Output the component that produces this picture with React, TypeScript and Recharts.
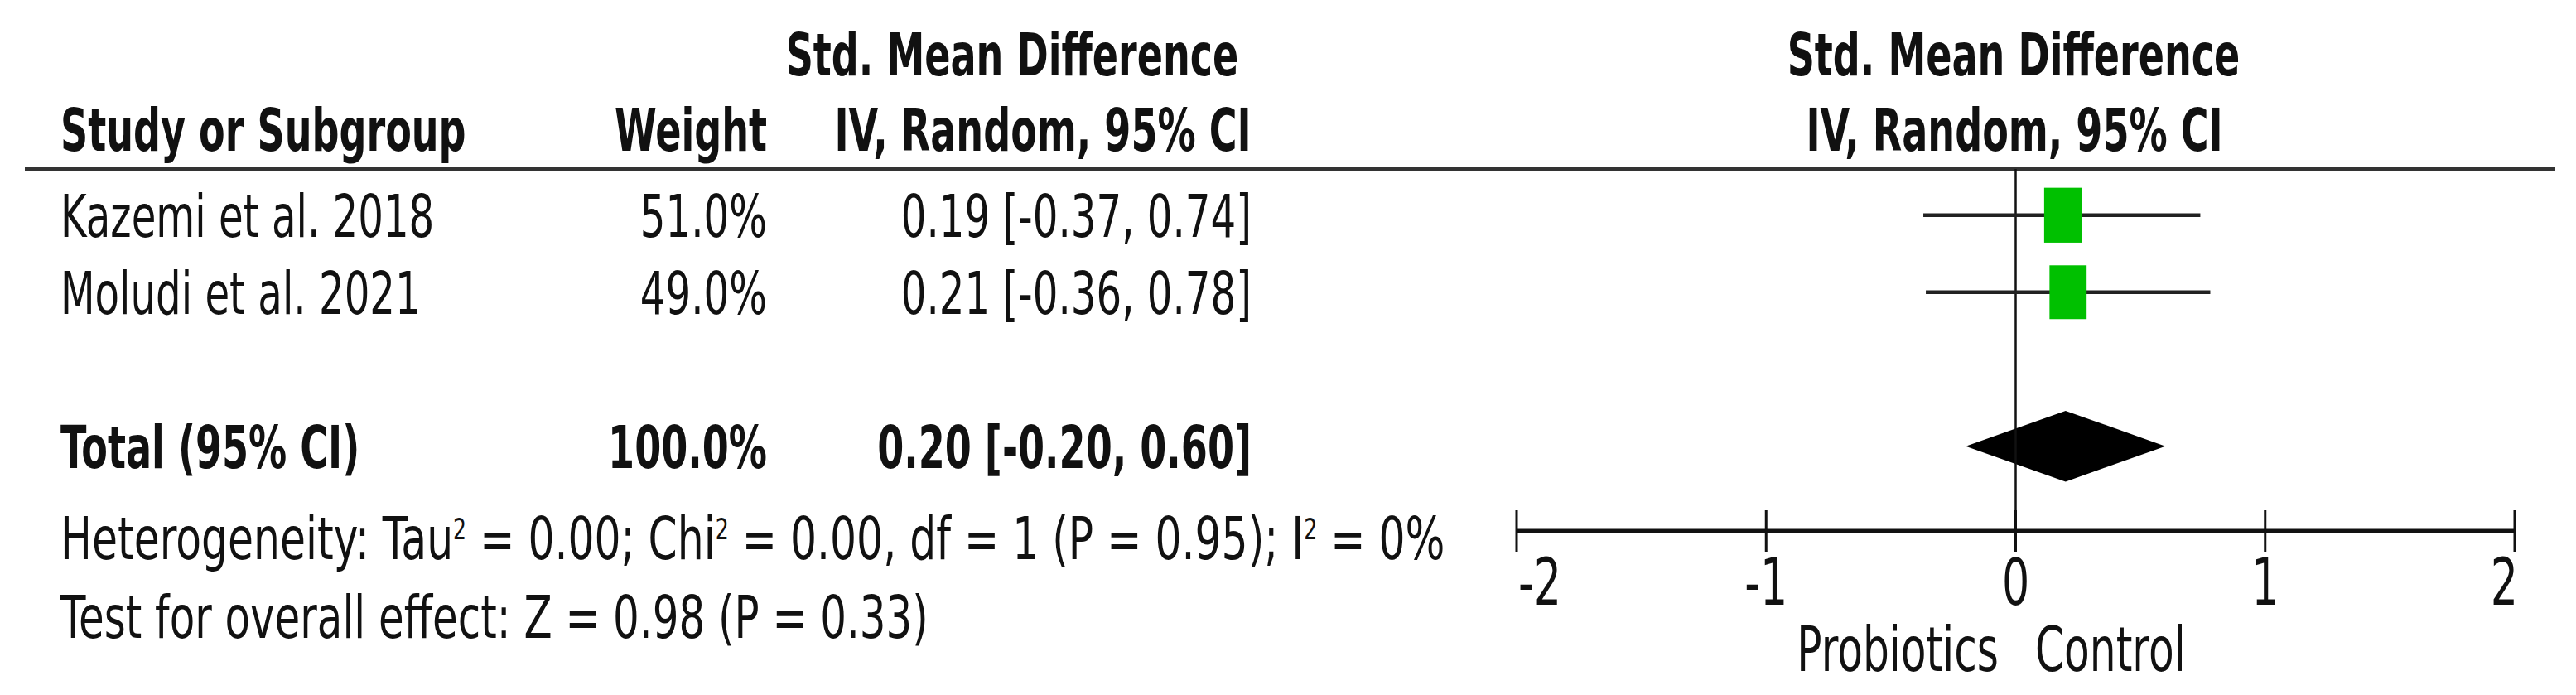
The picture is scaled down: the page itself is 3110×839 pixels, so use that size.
import { Area, ComposedChart, Customized, ReferenceLine, Scatter, XAxis, YAxis } from "recharts";

// study rows
const studies = ["Kazemi et al. 2018", "Moludi et al. 2021"];
const weights = [51.0, 49.0];
const smd = [0.19, 0.21];
const ciLow = [-0.37, -0.36];
const ciHigh = [0.74, 0.78];

// pooled estimate
const totalLabel = "Total (95% CI)";
const totalWeight = 100.0;
const totalSmd = 0.2;
const totalLow = -0.2;
const totalHigh = 0.6;

// heterogeneity / overall test
const tau2 = "0.00";
const chi2 = "0.00";
const df = 1;
const pHet = "0.95";
const i2 = "0%";
const zValue = "0.98";
const pOverall = "0.33";

const xTicks = [-2, -1, 0, 1, 2];
const favours = ["Probiotics", "Control"];

const FONT = "'DejaVu Sans', Verdana, sans-serif";
const SX = 0.67;
const SX_BOLD = 0.64;
const FS = 72;
const INK = "#111";

const TOTAL_ROW = studies.length + 1;

const squares = studies.map((_, i) => ({ x: smd[i], y: i, w: weights[i] }));
const diamond = [
  { x: totalLow, y: [TOTAL_ROW, TOTAL_ROW] },
  { x: totalSmd, y: [TOTAL_ROW - 0.46, TOTAL_ROW + 0.46] },
  { x: totalHigh, y: [TOTAL_ROW, TOTAL_ROW] },
];

const fmt = (v: number) => v.toFixed(2);

const Txt = ({ x, y, anchor = "start", bold = false, size = FS, sx, children }: any) => (
  <g transform={`translate(${x},${y}) scale(${sx ?? (bold ? SX_BOLD : SX)},1)`}>
    <text x={0} y={0} dy="0.36em" textAnchor={anchor} fontFamily={FONT} fontSize={size} fontWeight={bold ? 700 : 400} fill={INK}>
      {children}
    </text>
  </g>
);

const RowTick = (props: any) => {
  const { y, payload } = props;
  const v = payload.value;
  if (v === TOTAL_ROW) {
    return (
      <g>
        <Txt x={73} y={y} bold>{totalLabel}</Txt>
        <Txt x={926} y={y} anchor="end" bold>{`${totalWeight.toFixed(1)}%`}</Txt>
        <Txt x={1511} y={y} anchor="end" bold>{`${fmt(totalSmd)} [${fmt(totalLow)}, ${fmt(totalHigh)}]`}</Txt>
      </g>
    );
  }
  const i = v as number;
  return (
    <g>
      <Txt x={73} y={y}>{studies[i]}</Txt>
      <Txt x={926} y={y} anchor="end">{`${weights[i].toFixed(1)}%`}</Txt>
      <Txt x={1511} y={y} anchor="end">{`${fmt(smd[i])} [${fmt(ciLow[i])}, ${fmt(ciHigh[i])}]`}</Txt>
    </g>
  );
};

const AxisTick = (props: any) => {
  const { x, y, payload, index } = props;
  const anchor = index === 0 ? "start" : index === xTicks.length - 1 ? "end" : "middle";
  const dx = index === 0 ? 2 : index === xTicks.length - 1 ? 4 : 0;
  return (
    <g>
      <line x1={x} x2={x} y1={y - 25} y2={y + 25} stroke={INK} strokeWidth={3} />
      <Txt x={x + dx} y={y + 61} anchor={anchor} size={78}>{String(payload.value)}</Txt>
    </g>
  );
};

const Square = (props: any) => {
  const { cx, cy, payload } = props;
  const w = 6.4 * Math.sqrt(payload.w);
  const h = w * 1.45;
  return <rect x={cx - w / 2} y={cy - h / 2} width={w} height={h} fill="#00c000" />;
};

const SUP = 24;
const supSize = FS * 0.5;

const Overlay = () => (
  <g>
    <Txt x={1222} y={65} anchor="middle" bold>Std. Mean Difference</Txt>
    <Txt x={73} y={156} bold>Study or Subgroup</Txt>
    <Txt x={926} y={156} anchor="end" bold>Weight</Txt>
    <Txt x={1259} y={156} anchor="middle" bold>IV, Random, 95% CI</Txt>
    <Txt x={2431} y={65} anchor="middle" bold>Std. Mean Difference</Txt>
    <Txt x={2432} y={156} anchor="middle" bold>IV, Random, 95% CI</Txt>
    <line x1={30} x2={3085} y1={204} y2={204} stroke="#333" strokeWidth={6} />
    <Txt x={73} y={649} sx={0.7}>
      <tspan>Heterogeneity: Tau</tspan>
      <tspan dy={-SUP} fontSize={supSize}>2</tspan>
      <tspan dy={SUP}>{` = ${tau2}; Chi`}</tspan>
      <tspan dy={-SUP} fontSize={supSize}>2</tspan>
      <tspan dy={SUP}>{` = ${chi2}, df = ${df} (P = ${pHet}); I`}</tspan>
      <tspan dy={-SUP} fontSize={supSize}>2</tspan>
      <tspan dy={SUP}>{` = ${i2}`}</tspan>
    </Txt>
    <Txt x={73} y={744} sx={0.693}>{`Test for overall effect: Z = ${zValue} (P = ${pOverall})`}</Txt>
    <Txt x={2413} y={783} anchor="end" size={75}>{favours[0]}</Txt>
    <Txt x={2457} y={783} size={75}>{favours[1]}</Txt>
  </g>
);

export default function App() {
  return (
    <div style={{ position: "absolute", left: 0, top: 0, background: "#fff" }}>
      <ComposedChart width={3110} height={839} margin={{ top: 204, right: 74, bottom: 0, left: 0 }}>
        <XAxis
          type="number"
          dataKey="x"
          domain={[-2, 2]}
          ticks={xTicks}
          height={198}
          tickSize={0}
          tickMargin={0}
          tickLine={false}
          axisLine={{ stroke: INK, strokeWidth: 5 }}
          tick={<AxisTick />}
          allowDataOverflow
        />
        <YAxis
          type="number"
          dataKey="y"
          domain={[-0.6, 4.1]}
          reversed
          width={1831}
          ticks={[0, 1, TOTAL_ROW]}
          axisLine={false}
          tickLine={false}
          tick={<RowTick />}
          allowDataOverflow
        />
        <ReferenceLine x={0} stroke={INK} strokeWidth={2.5} />
        {studies.map((s, i) => (
          <ReferenceLine
            key={s}
            segment={[
              { x: ciLow[i], y: i },
              { x: ciHigh[i], y: i },
            ]}
            stroke="#222"
            strokeWidth={4.5}
          />
        ))}
        <Scatter data={squares} shape={<Square />} isAnimationActive={false} />
        <Area
          data={diamond}
          dataKey="y"
          type="linear"
          fill="#000"
          fillOpacity={1}
          stroke="none"
          dot={false}
          activeDot={false}
          isAnimationActive={false}
        />
        <Customized component={Overlay} />
      </ComposedChart>
    </div>
  );
}
